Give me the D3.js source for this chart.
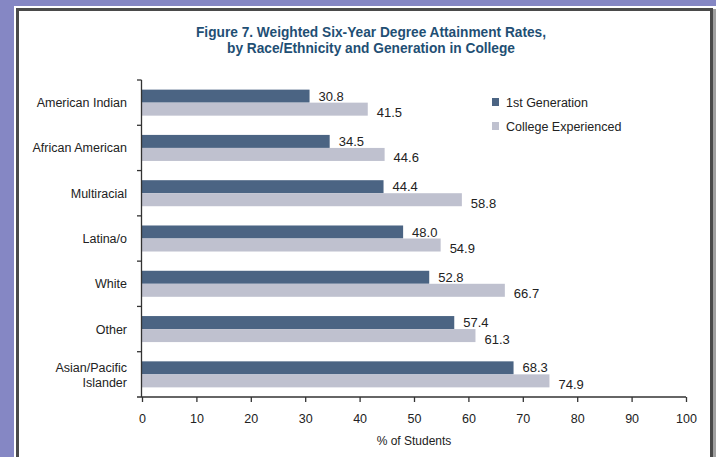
<!DOCTYPE html>
<html><head><meta charset="utf-8">
<script src="https://cdn.jsdelivr.net/npm/d3@7"></script>
<style>body{margin:0;background:#8587c4;}svg{display:block;font-family:"Liberation Sans",Arial,sans-serif;}</style>
</head><body>
<svg id="c" width="716" height="457"></svg>
<script>
const categories = ["American Indian","African American","Multiracial","Latina/o","White","Other","Asian/Pacific Islander"];
const firstGen = [30.8,34.5,44.4,48.0,52.8,57.4,68.3];
const collegeExp = [41.5,44.6,58.8,54.9,66.7,61.3,74.9];
const seriesNames = ["1st Generation","College Experienced"];
const xTicks = [0,10,20,30,40,50,60,70,80,90,100];
const colors = ["#4b6483","#bfc1cf"];

const svg = d3.select("#c");
svg.append("rect").attr("x",0).attr("y",0).attr("width",716).attr("height",457).attr("fill","#8587c4");
svg.append("rect").attr("x",14).attr("y",6).attr("width",702).attr("height",460).attr("fill","#fff");
svg.append("rect").attr("x",713).attr("y",9).attr("width",3).attr("height",460).attr("fill","#a0a0a0");
svg.append("rect").attr("x",17.5).attr("y",9.5).attr("width",694).attr("height",460).attr("fill","#fff").attr("stroke","#4a4a4a").attr("stroke-width",3);

const title = svg.append("text").attr("text-anchor","middle").attr("fill","#1f4f74").attr("font-weight","bold").attr("font-size",14);
title.append("tspan").attr("x",371).attr("y",37).attr("textLength",350).attr("lengthAdjust","spacingAndGlyphs").text("Figure 7. Weighted Six-Year Degree Attainment Rates,");
title.append("tspan").attr("x",371).attr("y",53).attr("textLength",288).attr("lengthAdjust","spacingAndGlyphs").text("by Race/Ethnicity and Generation in College");

const x = d3.scaleLinear().domain([0,100]).range([142,686]);
const y = d3.scaleBand().domain(categories).range([80,397]).padding(0);
const y1 = d3.scaleBand().domain(seriesNames).range([0,y.bandwidth()]).paddingInner(0).paddingOuter(0.74);

const data = categories.map((c,i)=>({cat:c, vals:[firstGen[i],collegeExp[i]]}));

const g = svg.append("g");
data.forEach(d=>{
  d.vals.forEach((v,j)=>{
    g.append("rect").attr("x",x(0)).attr("y",y(d.cat)+y1(seriesNames[j]))
      .attr("width",x(v)-x(0)).attr("height",y1.bandwidth()).attr("fill",colors[j]);
    g.append("text").attr("x",x(v)+9)
      .attr("y", j===0 ? y(d.cat)+y1(seriesNames[j])+y1.bandwidth()-2 : y(d.cat)+y1(seriesNames[j])+y1.bandwidth()+1.5)
      .attr("font-size",13).attr("fill","#222").text(v.toFixed(1));
  });
});

// y axis line and ticks at band boundaries
svg.append("line").attr("x1",141.5).attr("x2",141.5).attr("y1",80).attr("y2",397).attr("stroke","#333").attr("stroke-width",1.3);
categories.forEach(c=>{
  svg.append("line").attr("x1",137).attr("x2",141.5).attr("y1",y(c)).attr("y2",y(c)).attr("stroke","#333").attr("stroke-width",1.3);
});
// category labels
categories.forEach(c=>{
  const cy = y(c)+y.bandwidth()/2;
  const t = svg.append("text").attr("text-anchor","end").attr("font-size",12.5).attr("fill","#222");
  if(c==="Asian/Pacific Islander"){
    t.append("tspan").attr("x",127).attr("y",cy-2).text("Asian/Pacific");
    t.append("tspan").attr("x",127).attr("y",cy+13).text("Islander");
  } else {
    t.attr("x",127).attr("y",cy+4.5).text(c);
  }
});

// x axis
const xAxis = d3.axisBottom(x).tickValues(xTicks).tickSize(5).tickPadding(12).tickFormat(d3.format("d"));
const xg = svg.append("g").attr("transform","translate(0,397)").call(xAxis);
xg.select(".domain").attr("d","M137,0H686").attr("stroke","#333").attr("stroke-width",1.3);
xg.selectAll(".tick line").attr("stroke","#333").attr("stroke-width",1.3);
xg.selectAll(".tick text").attr("font-size",12.5).attr("fill","#222").attr("font-family","Liberation Sans, Arial, sans-serif");
svg.append("text").attr("x",414).attr("y",445).attr("text-anchor","middle").attr("font-size",12).attr("fill","#222").text("% of Students");

// legend
seriesNames.forEach((s,i)=>{
  const ly = 98 + i*24;
  svg.append("rect").attr("x",492).attr("y",ly).attr("width",7).attr("height",8).attr("fill",colors[i]);
  svg.append("text").attr("x",506).attr("y",ly+9).attr("font-size",12.5).attr("fill","#222").text(s);
});
</script>
</body></html>
